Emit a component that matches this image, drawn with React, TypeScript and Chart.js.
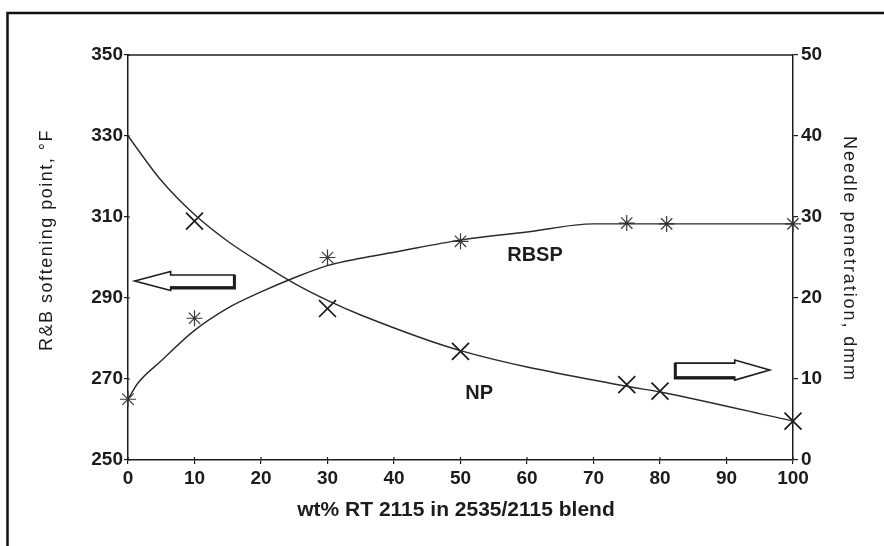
import React, { useEffect, useRef } from "react";
import { Chart, registerables } from "chart.js";

Chart.register(...registerables);

// ---- data ----
const rbspX = [0, 10, 30, 50, 75, 81, 100];
const rbspY = [265, 285, 300, 304, 308.5, 308.3, 308.3];
const npX = [10, 30, 50, 75, 80, 100];
const npY = [29.5, 18.7, 13.4, 9.3, 8.5, 4.8];

// fitted curves
const rbspCurveX = [0, 1.5, 5, 10, 15, 20, 25, 30, 35, 40, 50, 60, 70, 85, 100];
const rbspCurveY = [265, 269, 274.5, 282, 287.5, 291.5, 295, 298, 299.8, 301.3, 304.3, 306.3, 308.3, 308.3, 308.3];
const npCurveX = [0, 5, 10, 15, 20, 25, 30, 35, 50, 75, 80, 100];
const npCurveY = [40, 34.5, 30.3, 27, 24.3, 21.8, 19.7, 17.9, 13.5, 9.1, 8.4, 4.8];

// axes
const xRange = [0, 100, 10];
const leftRange = [250, 350, 20];
const rightRange = [0, 50, 10];

const xTitle = "wt% RT 2115 in 2535/2115 blend";
const leftTitle = "R&B softening point, °F";
const rightTitle = "Needle penetration, dmm";
const seriesLabels = ["RBSP", "NP"];

const FONT = "'Liberation Sans', Arial, Helvetica, sans-serif";
const INK = "#1c1c1c";

const toPts = (xs: number[], ys: number[]) => xs.map((x, i) => ({ x, y: ys[i] }));

function drawArrow(ctx: CanvasRenderingContext2D, tipX: number, tipY: number, tailX: number, headLen: number, headHalf: number, shaftHalf: number) {
  const s = Math.sign(tailX - tipX);
  const hx = tipX + s * headLen;
  ctx.beginPath();
  ctx.moveTo(tipX, tipY);
  ctx.lineTo(hx, tipY - headHalf);
  ctx.lineTo(hx, tipY - shaftHalf);
  ctx.lineTo(tailX, tipY - shaftHalf);
  ctx.lineTo(tailX, tipY + shaftHalf);
  ctx.lineTo(hx, tipY + shaftHalf);
  ctx.lineTo(hx, tipY + headHalf);
  ctx.closePath();
  ctx.fillStyle = "#fff";
  ctx.fill();
  ctx.lineWidth = 1.6;
  ctx.strokeStyle = INK;
  ctx.stroke();
  // heavier lower edge (shadow)
  ctx.lineWidth = 3;
  ctx.beginPath();
  ctx.moveTo(hx, tipY + shaftHalf + 1);
  ctx.lineTo(tailX, tipY + shaftHalf + 1);
  ctx.lineTo(tailX, tipY - shaftHalf);
  ctx.stroke();
}

const decor = {
  id: "decor",
  beforeDraw(chart: any) {
    const { ctx, width, height } = chart;
    ctx.save();
    ctx.fillStyle = "#fff";
    ctx.fillRect(0, 0, width, height);
    ctx.restore();
  },
  afterDraw(chart: any) {
    const { ctx, chartArea: a, scales } = chart;
    const xs = scales.x, yl = scales.y, yr = scales.y1;
    ctx.save();
    // outer frame
    ctx.strokeStyle = "#111";
    ctx.lineWidth = 2.5;
    ctx.beginPath();
    ctx.moveTo(7.5, 546);
    ctx.lineTo(7.5, 13);
    ctx.lineTo(884, 13);
    ctx.stroke();
    // top of plot box
    ctx.lineWidth = 1.5;
    ctx.strokeStyle = INK;
    ctx.beginPath();
    ctx.moveTo(a.left, a.top);
    ctx.lineTo(a.right, a.top);
    ctx.stroke();
    // inner tick parts
    ctx.lineWidth = 1.2;
    ctx.beginPath();
    xs.ticks.forEach((t: any) => {
      const p = xs.getPixelForValue(t.value);
      ctx.moveTo(p, a.bottom);
      ctx.lineTo(p, a.bottom - 3);
    });
    yl.ticks.forEach((t: any) => {
      const p = yl.getPixelForValue(t.value);
      ctx.moveTo(a.left, p);
      ctx.lineTo(a.left + 2, p);
    });
    ctx.stroke();

    // axis titles
    ctx.fillStyle = INK;
    ctx.textAlign = "center";
    ctx.textBaseline = "middle";
    ctx.font = `bold 21px ${FONT}`;
    ctx.fillText(xTitle, 456, 510);

    ctx.font = `18px ${FONT}`;
    (ctx as any).letterSpacing = "1.5px";
    ctx.save();
    ctx.translate(47, 240);
    ctx.rotate(-Math.PI / 2);
    ctx.fillText(leftTitle, 0, 0);
    ctx.restore();
    (ctx as any).letterSpacing = "1.9px";
    ctx.save();
    ctx.translate(849, 259);
    ctx.rotate(Math.PI / 2);
    ctx.fillText(rightTitle, 0, 0);
    ctx.restore();
    (ctx as any).letterSpacing = "0px";

    // series labels
    ctx.font = `bold 20px ${FONT}`;
    ctx.fillText(seriesLabels[0], xs.getPixelForValue(61.2), yl.getPixelForValue(300.5));
    ctx.fillText(seriesLabels[1], xs.getPixelForValue(52.8), yl.getPixelForValue(266.5));

    // arrows
    drawArrow(ctx, xs.getPixelForValue(1.0), yl.getPixelForValue(294.2), xs.getPixelForValue(16.0), 36, 9.5, 6);
    drawArrow(ctx, xs.getPixelForValue(96.5), yr.getPixelForValue(11.1), xs.getPixelForValue(82.3), 35, 10, 7);
    ctx.restore();
  },
};

export default function App() {
  const ref = useRef<HTMLCanvasElement | null>(null);
  useEffect(() => {
    if (!ref.current) return;
    const tickFont = { family: FONT, size: 19, weight: "bold" as const };
    const chart = new Chart(ref.current, {
      type: "line",
      data: {
        datasets: [
          {
            data: toPts(rbspCurveX, rbspCurveY),
            yAxisID: "y",
            borderColor: "#2a2a2a",
            borderWidth: 1.4,
            pointRadius: 0,
            cubicInterpolationMode: "monotone",
            fill: false,
          },
          {
            data: toPts(npCurveX, npCurveY),
            yAxisID: "y1",
            borderColor: "#2a2a2a",
            borderWidth: 1.4,
            pointRadius: 0,
            cubicInterpolationMode: "monotone",
            fill: false,
          },
          {
            data: toPts(rbspX, rbspY),
            yAxisID: "y",
            showLine: false,
            pointStyle: "star",
            pointRadius: 8,
            pointBorderWidth: 1.2,
            pointBorderColor: "#3a3a3a",
            pointBackgroundColor: "#3a3a3a",
            clip: false as any,
          },
          {
            data: toPts(npX, npY),
            yAxisID: "y1",
            showLine: false,
            pointStyle: "crossRot",
            pointRadius: 12,
            pointBorderWidth: 1.7,
            pointBorderColor: "#1a1a1a",
            pointBackgroundColor: "#1a1a1a",
            clip: false as any,
          },
        ],
      },
      options: {
        responsive: false,
        animation: false,
        layout: { padding: { top: 55, left: 0, right: 0, bottom: 0 } },
        plugins: { legend: { display: false }, tooltip: { enabled: false } },
        scales: {
          x: {
            type: "linear",
            position: "bottom",
            min: xRange[0],
            max: xRange[1],
            afterFit: (s: any) => { s.height = 86; },
            ticks: { stepSize: xRange[2], font: tickFont, color: INK, padding: 3, maxRotation: 0 },
            grid: { display: true, drawOnChartArea: false, drawTicks: true, tickLength: 4, color: INK, lineWidth: 1.2 },
            border: { display: true, color: INK, width: 1.5 },
          },
          y: {
            type: "linear",
            position: "left",
            min: leftRange[0],
            max: leftRange[1],
            afterFit: (s: any) => { s.width = 128; },
            ticks: { stepSize: leftRange[2], font: tickFont, color: INK, padding: 1 },
            grid: { display: true, drawOnChartArea: false, drawTicks: true, tickLength: 4, color: INK, lineWidth: 1.2 },
            border: { display: true, color: INK, width: 1.5 },
          },
          y1: {
            type: "linear",
            position: "right",
            min: rightRange[0],
            max: rightRange[1],
            afterFit: (s: any) => { s.width = 91; },
            ticks: { stepSize: rightRange[2], font: tickFont, color: INK, padding: 3 },
            grid: { display: true, drawOnChartArea: false, drawTicks: true, tickLength: 5, color: INK, lineWidth: 1.2 },
            border: { display: true, color: INK, width: 1.5 },
          },
        },
      },
      plugins: [decor],
    } as any);
    return () => chart.destroy();
  }, []);
  return (
    <div style={{ position: "absolute", left: 0, top: 0, width: 884, height: 546, background: "#fff" }}>
      <canvas ref={ref} width={884} height={546} style={{ display: "block", width: 884, height: 546 }} />
    </div>
  );
}
